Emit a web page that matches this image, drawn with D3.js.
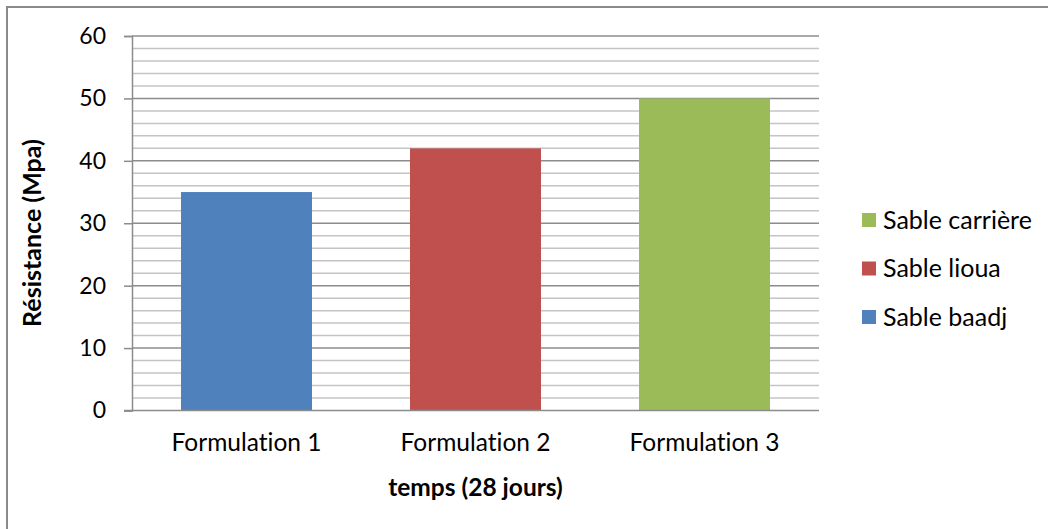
<!DOCTYPE html>
<html>
<head>
<meta charset="utf-8">
<script src="https://cdn.jsdelivr.net/npm/d3@7"></script>
<style>
  html, body { margin: 0; padding: 0; background: #fff; }
  svg { display: block; font-family: "Lato", "Open Sans", sans-serif; font-variant-ligatures: none; }
  text { font-variant-ligatures: none; font-feature-settings: "liga" 0; }
</style>
</head>
<body>
<svg id="chart" width="1048" height="529"></svg>
<script>
// Compressive strength at 28 days, one sand per formulation
const categories = ["Formulation 1", "Formulation 2", "Formulation 3"];
const seriesNames = ["Sable baadj", "Sable lioua", "Sable carrière"];
const values = [35, 42, 50];
const colors = ["#4F81BD", "#C0504D", "#9BBB59"];
const majorTicks = [0, 10, 20, 30, 40, 50, 60];
const minorTicks = d3.range(0, 61, 2);
const yTitle = "Résistance (Mpa)";
const xTitle = "temps (28 jours)";

const svg = d3.select("#chart");
const W = 1048, H = 529;
const plot = { left: 132, right: 819, top: 36, bottom: 410.5 };
const FONT = "Lato, 'Open Sans', sans-serif";

// Chart frame (runs past the right and bottom edges)
svg.append("rect")
  .attr("x", 7).attr("y", 7)
  .attr("width", W + 50).attr("height", H + 50)
  .attr("fill", "none").attr("stroke", "#8a8a8a").attr("stroke-width", 2);

const y = d3.scaleLinear().domain([0, 60]).range([plot.bottom, plot.top]);
const x = d3.scaleBand().domain(categories)
  .range([plot.left, plot.right])
  .paddingInner(0.428).paddingOuter(0.214);

// Minor gridlines
svg.append("g").selectAll("line")
  .data(minorTicks.filter(v => v % 10 !== 0))
  .join("line")
  .attr("x1", plot.left).attr("x2", plot.right)
  .attr("y1", d => y(d)).attr("y2", d => y(d))
  .attr("stroke", "#c4c4c4").attr("stroke-width", 1.5);

// Major gridlines
svg.append("g").selectAll("line")
  .data(majorTicks.filter(v => v > 0))
  .join("line")
  .attr("x1", plot.left).attr("x2", plot.right)
  .attr("y1", d => y(d)).attr("y2", d => y(d))
  .attr("stroke", "#8c8c8c").attr("stroke-width", 1.5);

// Bars
svg.append("g").selectAll("rect")
  .data(values)
  .join("rect")
  .attr("x", (d, i) => x(categories[i]))
  .attr("width", x.bandwidth())
  .attr("y", d => y(d))
  .attr("height", d => y(0) - y(d))
  .attr("fill", (d, i) => colors[i]);

// Y axis
const yAxis = d3.axisLeft(y).tickValues(majorTicks).tickSize(8).tickPadding(18);
const gy = svg.append("g").attr("transform", `translate(${plot.left},0)`).call(yAxis);
gy.select(".domain").attr("stroke", "#8c8c8c").attr("stroke-width", 1.5);
gy.selectAll(".tick line").attr("stroke", "#8c8c8c").attr("stroke-width", 1.5);
gy.selectAll(".tick text").attr("font-size", 23).attr("fill", "#000")
  .attr("font-family", FONT);

// X axis
const xAxis = d3.axisBottom(x).tickSize(0).tickPadding(23);
const gx = svg.append("g").attr("transform", `translate(0,${plot.bottom})`).call(xAxis);
gx.select(".domain").remove();
gx.append("line")
  .attr("x1", plot.left - 8).attr("x2", plot.right)
  .attr("stroke", "#8c8c8c").attr("stroke-width", 1.5);
gx.selectAll(".tick text").attr("font-size", 24.5).attr("fill", "#000")
  .attr("font-family", FONT);

// Axis titles
svg.append("text")
  .attr("transform", `translate(41,233) rotate(-90)`)
  .attr("text-anchor", "middle")
  .attr("font-size", 25).attr("font-weight", "bold")
  .text(yTitle);

svg.append("text")
  .attr("x", (plot.left + plot.right) / 2).attr("y", 496)
  .attr("text-anchor", "middle")
  .attr("font-size", 24.5).attr("font-weight", "bold")
  .text(xTitle);

// Legend, last series on top
const legendItems = seriesNames.map((n, i) => ({ name: n, color: colors[i] })).reverse();
const lg = svg.append("g").selectAll("g")
  .data(legendItems)
  .join("g")
  .attr("transform", (d, i) => `translate(862,${213 + i * 48.5})`);
lg.append("rect").attr("width", 14).attr("height", 14).attr("fill", d => d.color);
lg.append("text").attr("x", 21).attr("y", 15.5)
  .attr("font-size", 25).attr("fill", "#000")
  .text(d => d.name);
</script>
</body>
</html>
